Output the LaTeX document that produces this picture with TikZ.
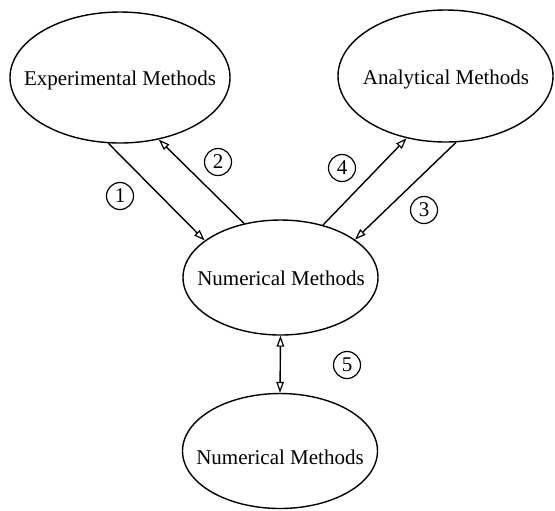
\documentclass[tikz,border=0pt]{standalone}
\usepackage{fontspec}
\setmainfont{Liberation Serif}
\usetikzlibrary{shapes.geometric,arrows.meta}
\begin{document}
\begin{tikzpicture}[x=0.5pt,y=-0.5pt,
  oval/.style={draw,ellipse,inner sep=0pt,line width=0.7pt},
  ovaltext/.style={inner sep=0pt,font=\fontsize{10.5pt}{12pt}\selectfont},
  numlabel/.style={draw,circle,inner sep=0pt,minimum size=13.5pt,line width=0.6pt,font=\fontsize{10.5pt}{12pt}\selectfont},
  tip/.style={Triangle[open,length=5.5pt,width=3.8pt,line width=0.6pt]},
  conn/.style={line width=0.7pt,-{Triangle[open,length=5.5pt,width=3.8pt,line width=0.6pt]}},
  bconn/.style={line width=0.7pt,{Triangle[open,length=5.5pt,width=3.8pt,line width=0.6pt]}-{Triangle[open,length=5.5pt,width=3.8pt,line width=0.6pt]}}]
\useasboundingbox (0,0) rectangle (555,510);
\node[oval,minimum width=110pt,minimum height=65.5pt] (exp) at (120,77.5) {};
\node[ovaltext] (expt) at (120,80) {Experimental Methods};
\node[oval,minimum width=107.5pt,minimum height=66pt] (ana) at (445.5,76) {};
\node[ovaltext] (anat) at (446,79) {Analytical Methods};
\node[oval,minimum width=97.5pt,minimum height=57.5pt] (num) at (280.5,277.5) {};
\node[ovaltext] (numt) at (281,278) {Numerical Methods};
\node[oval,minimum width=97.5pt,minimum height=57.5pt] (num2) at (280,451) {};
\node[ovaltext] (num2t) at (280,457) {Numerical Methods};
\draw[conn] (exp.260) -- (num.154);
\draw[conn] (num.124.5) -- (exp.302.6);
\draw[conn] (ana.279.7) -- (num.27);
\draw[conn] (num.51) -- (ana.238.8);
\draw[bconn] (num.south) -- (num2.north);
\node[numlabel] (l1) at (120,196) {1};
\node[numlabel] (l2) at (218,162) {2};
\node[numlabel] (l3) at (424,210) {3};
\node[numlabel] (l4) at (342,168) {4};
\node[numlabel] (l5) at (347,365) {5};
\end{tikzpicture}
\end{document}
